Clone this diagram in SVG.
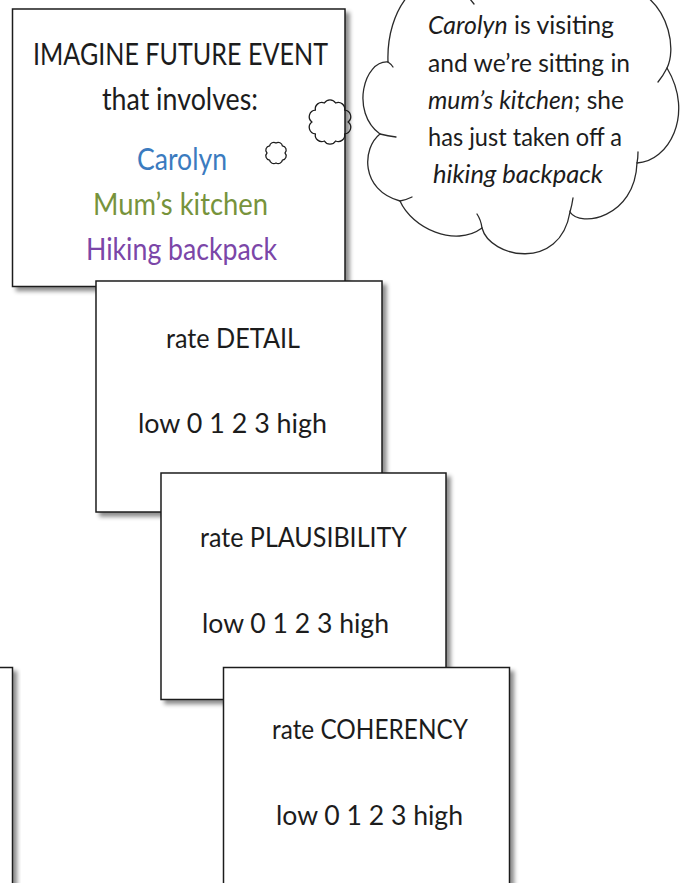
<svg xmlns="http://www.w3.org/2000/svg" width="685" height="883" viewBox="0 0 685 883">
  <defs>
    <filter id="shadow" x="-10%" y="-10%" width="130%" height="130%">
      <feDropShadow dx="4" dy="4" stdDeviation="2.2" flood-color="#000" flood-opacity="0.45"/>
    </filter>
    <style>
      .card { fill: #fff; stroke: #1c1c1c; stroke-width: 1.5; filter: url(#shadow); }
      .txt { font-family: Lato, "Liberation Sans", "DejaVu Sans", sans-serif; fill: #1c1c1c; }
      .head { font-size: 31px; text-anchor: middle; }
      .rate { font-size: 26px; text-anchor: middle; }
      .cloudtxt { font-size: 25px; }
      .outline { fill: none; stroke: #2a2a2a; stroke-width: 1.3; stroke-linecap: round; }
      .puff { fill: none; stroke: #1c1c1c; stroke-width: 1.3; stroke-linejoin: round; }
    </style>
  </defs>

  <rect width="685" height="883" fill="#fff"/>

  <!-- partially visible card at the lower left edge -->
  <g id="node-left-edge">
    <rect class="card" x="-30" y="667.5" width="42.5" height="260"/>
  </g>

  <!-- prompt card -->
  <g id="node-imagine">
    <rect class="card" x="12.5" y="9" width="332.5" height="277.5"/>
    <text class="txt head" x="180.5" y="65" textLength="295" lengthAdjust="spacingAndGlyphs">IMAGINE FUTURE EVENT</text>
    <text class="txt head" x="180" y="110" textLength="156" lengthAdjust="spacingAndGlyphs">that involves:</text>
    <text class="txt head" x="182" y="170" textLength="90" lengthAdjust="spacingAndGlyphs" style="fill:#3B7BBF">Carolyn</text>
    <text class="txt head" x="180.5" y="215" textLength="175" lengthAdjust="spacingAndGlyphs" style="fill:#77933C">Mum’s kitchen</text>
    <text class="txt head" x="181.5" y="260" textLength="191" lengthAdjust="spacingAndGlyphs" style="fill:#7B46A8">Hiking backpack</text>
  </g>

  <!-- small puffs leading to the thought cloud -->
  <g id="thought-trail">
    <path class="puff" d="M348,122 A6.5,6.5 0 0 1 344.6,133.8 A6.5,6.5 0 0 1 335.6,141 A6.5,6.5 0 0 1 324.4,141 A6.5,6.5 0 0 1 315.4,133.8 A6.5,6.5 0 0 1 312,122 A6.5,6.5 0 0 1 315.4,110.2 A6.5,6.5 0 0 1 324.4,103 A6.5,6.5 0 0 1 335.6,103 A6.5,6.5 0 0 1 344.6,110.2 A6.5,6.5 0 0 1 348,122 Z"/>
    <path class="puff" d="M285,153 A4.2,4.2 0 0 1 282.4,160.1 A4.2,4.2 0 0 1 276,163 A4.2,4.2 0 0 1 269.6,160.1 A4.2,4.2 0 0 1 267,153 A4.2,4.2 0 0 1 269.6,145.9 A4.2,4.2 0 0 1 276,143 A4.2,4.2 0 0 1 282.4,145.9 A4.2,4.2 0 0 1 285,153 Z"/>
  </g>

  <!-- thought cloud -->
  <g id="node-thought">
    <path d="M407,-3 C395,12 387,35 388,62 C364,60 350,112 380,134 C362,148 360,190 400,201 C412,228 455,248 482,228 C490,258 560,272 570,212 C580,228 635,218 637,163 C668,162 695,115 667,68 C676,50 670,10 640,-8 C610,-40 500,-40 468,-6 C450,-25 420,-20 407,-3 Z" fill="#fff" stroke="none"/>
    <path class="outline" d="M407,-3 C395,12 387,35 388,62 C364,60 350,112 380,134 C362,148 360,190 400,201 C412,228 455,248 482,228 C490,258 560,272 570,212 C580,228 635,218 637,163 C668,162 695,115 667,68 C676,50 670,10 640,-8"/>
    <path class="outline" d="M388,62 Q391,64 393,67 M380,134 Q388,136 396,137 M400,201 Q406,200 412,197 M482,228 Q481,220 477,214 M570,212 Q572,205 573,198 M637,163 Q638,158 638,152 M667,68 Q663,76 658,82 M466,-6 Q470,-1 474,4"/>
    <text class="txt cloudtxt" x="428" y="34" textLength="186" lengthAdjust="spacingAndGlyphs"><tspan font-style="italic">Carolyn</tspan> is visiting</text>
    <text class="txt cloudtxt" x="428" y="72" textLength="202" lengthAdjust="spacingAndGlyphs">and we’re sitting in</text>
    <text class="txt cloudtxt" x="428" y="109" textLength="196" lengthAdjust="spacingAndGlyphs"><tspan font-style="italic">mum’s kitchen</tspan>; she</text>
    <text class="txt cloudtxt" x="428" y="146" textLength="194" lengthAdjust="spacingAndGlyphs">has just taken off a</text>
    <text class="txt cloudtxt" x="433" y="183" textLength="170" lengthAdjust="spacingAndGlyphs" font-style="italic">hiking backpack</text>
  </g>

  <!-- rating cards -->
  <g id="node-detail">
    <rect class="card" x="96" y="281" width="286" height="231"/>
    <text class="txt rate" x="233" y="348" textLength="134" lengthAdjust="spacingAndGlyphs">rate DETAIL</text>
    <text class="txt rate" x="232.5" y="433" textLength="189" lengthAdjust="spacingAndGlyphs">low 0 1 2 3 high</text>
  </g>

  <g id="node-plausibility">
    <rect class="card" x="161" y="473" width="285" height="226.5"/>
    <text class="txt rate" x="303.5" y="547" textLength="207" lengthAdjust="spacingAndGlyphs">rate PLAUSIBILITY</text>
    <text class="txt rate" x="295.5" y="633" textLength="187" lengthAdjust="spacingAndGlyphs">low 0 1 2 3 high</text>
  </g>

  <g id="node-coherency">
    <rect class="card" x="223.5" y="667.5" width="286" height="260"/>
    <text class="txt rate" x="370" y="739" textLength="196" lengthAdjust="spacingAndGlyphs">rate COHERENCY</text>
    <text class="txt rate" x="369.5" y="825" textLength="187" lengthAdjust="spacingAndGlyphs">low 0 1 2 3 high</text>
  </g>

  <g id="connectors"/>
</svg>
